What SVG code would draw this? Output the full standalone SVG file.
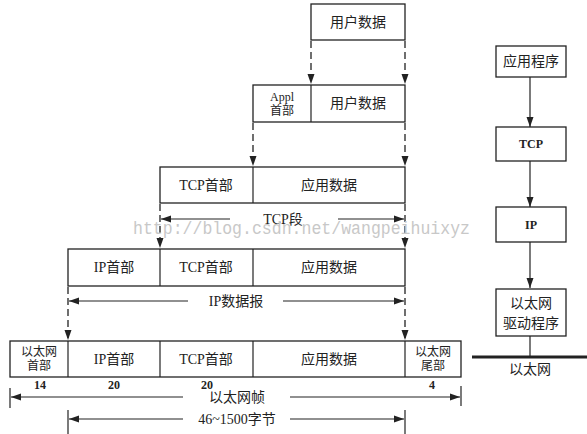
<svg xmlns="http://www.w3.org/2000/svg" width="587" height="434" viewBox="0 0 587 434">
<style>
.box{fill:#fff;stroke:#222;stroke-width:1.3}
.div{stroke:#222;stroke-width:1.2}
.t{font-family:"Liberation Serif","Noto Sans CJK SC",serif;font-size:14px;fill:#222;text-anchor:middle}
.s{font-family:"Liberation Serif","Noto Sans CJK SC",serif;font-size:12px;fill:#222;text-anchor:middle}
.b{font-family:"Liberation Serif","Noto Sans CJK SC",serif;font-size:12px;font-weight:bold;fill:#222;text-anchor:middle}
.dash{stroke:#222;stroke-width:1.3;stroke-dasharray:7 4;fill:none}
.ln{stroke:#222;stroke-width:1.2;fill:none}
.wm{font-family:"Liberation Mono",monospace;font-size:19px;fill:#c8c8c8}
</style>
<defs>
<marker id="ah" viewBox="0 0 10 10" refX="10" refY="5" markerWidth="8" markerHeight="8" markerUnits="userSpaceOnUse" orient="auto"><path d="M0,1.5 L10,5 L0,8.5 Z" fill="#222"/></marker>
<marker id="ahd" viewBox="0 0 10 10" refX="10" refY="5" markerWidth="10" markerHeight="10" markerUnits="userSpaceOnUse" orient="auto"><path d="M0,1.5 L10,5 L0,8.5 Z" fill="#222"/></marker>
</defs>

<g id="connectors">
<!-- dashed drops -->
<path class="dash" d="M311,41 V84" marker-end="url(#ahd)"/>
<path class="dash" d="M405,41 V84" marker-end="url(#ahd)"/>
<path class="dash" d="M253,123 V166" marker-end="url(#ahd)"/>
<path class="dash" d="M405,123 V166" marker-end="url(#ahd)"/>
<path class="dash" d="M160,204 V248" marker-end="url(#ahd)"/>
<path class="dash" d="M405,204 V248" marker-end="url(#ahd)"/>
<path class="dash" d="M68,287 V340" marker-end="url(#ahd)"/>
<path class="dash" d="M405,287 V340" marker-end="url(#ahd)"/>
<!-- TCP段 -->
<path class="ln" d="M230,219 H161" marker-end="url(#ahd)"/>
<path class="ln" d="M338,219 H404" marker-end="url(#ahd)"/>
<!-- IP数据报 -->
<path class="ln" d="M188,301 H69" marker-end="url(#ahd)"/>
<path class="ln" d="M283,301 H404" marker-end="url(#ahd)"/>
<!-- 以太网帧 -->
<path class="ln" d="M10,388 V408"/>
<path class="ln" d="M461,386 V406"/>
<path class="ln" d="M183,397 H11" marker-end="url(#ahd)"/>
<path class="ln" d="M290,397 H460" marker-end="url(#ahd)"/>
<!-- 46~1500字节 -->
<path class="ln" d="M68,410 V434"/>
<path class="ln" d="M405,410 V434"/>
<path class="ln" d="M183,419 H69" marker-end="url(#ahd)"/>
<path class="ln" d="M290,419 H404" marker-end="url(#ahd)"/>
<!-- right stack -->
<path class="ln" d="M530,77 V127" marker-end="url(#ahd)"/>
<path class="ln" d="M530,161 V207" marker-end="url(#ahd)"/>
<path class="ln" d="M530,242 V288" marker-end="url(#ahd)"/>
<path class="ln" d="M530,336 V357"/>
<path d="M472,357 H587" stroke="#222" stroke-width="3"/>
</g>

<g id="row1">
<rect class="box" x="311" y="4" width="94" height="36"/>
<text class="t" x="358" y="27">用户数据</text>
</g>

<g id="row2">
<rect class="box" x="253" y="85" width="152" height="37"/>
<line class="div" x1="311" y1="85" x2="311" y2="122"/>
<text class="s" x="282" y="101">Appl</text>
<text class="s" x="282" y="115">首部</text>
<text class="t" x="358" y="108">用户数据</text>
</g>

<g id="row3">
<rect class="box" x="160" y="167" width="245" height="36"/>
<line class="div" x1="253" y1="167" x2="253" y2="203"/>
<text class="t" x="206" y="190">TCP首部</text>
<text class="t" x="329" y="190">应用数据</text>
<text class="t" x="283" y="224">TCP段</text>
</g>

<g id="row4">
<rect class="box" x="68" y="249" width="337" height="37"/>
<line class="div" x1="160" y1="249" x2="160" y2="286"/>
<line class="div" x1="253" y1="249" x2="253" y2="286"/>
<text class="t" x="114" y="272">IP首部</text>
<text class="t" x="206" y="272">TCP首部</text>
<text class="t" x="329" y="272">应用数据</text>
<text class="t" x="236" y="306">IP数据报</text>
</g>

<g id="row5">
<rect class="box" x="10" y="341" width="451" height="36"/>
<line class="div" x1="68" y1="341" x2="68" y2="377"/>
<line class="div" x1="160" y1="341" x2="160" y2="377"/>
<line class="div" x1="253" y1="341" x2="253" y2="377"/>
<line class="div" x1="405" y1="341" x2="405" y2="377"/>
<text class="s" x="39" y="356">以太网</text>
<text class="s" x="39" y="370">首部</text>
<text class="t" x="114" y="364">IP首部</text>
<text class="t" x="206" y="364">TCP首部</text>
<text class="t" x="329" y="364">应用数据</text>
<text class="s" x="433" y="356">以太网</text>
<text class="s" x="433" y="370">尾部</text>
<text class="b" x="40" y="389">14</text>
<text class="b" x="114" y="389">20</text>
<text class="b" x="207" y="389">20</text>
<text class="b" x="432" y="389">4</text>
<text class="t" x="237" y="402">以太网帧</text>
<text class="t" x="237" y="424">46~1500字节</text>
</g>

<g id="app">
<rect class="box" x="496" y="46" width="70" height="31"/>
<text class="t" x="531" y="66">应用程序</text>
</g>
<g id="tcp">
<rect class="box" x="496" y="127" width="70" height="34"/>
<text class="b" x="531" y="148">TCP</text>
</g>
<g id="ip">
<rect class="box" x="496" y="207" width="70" height="35"/>
<text class="b" x="531" y="229">IP</text>
</g>
<g id="driver">
<rect class="box" x="496" y="289" width="70" height="47"/>
<text class="t" x="531" y="308">以太网</text>
<text class="t" x="531" y="328">驱动程序</text>
</g>
<g id="ethernet">
<text class="t" x="530" y="374">以太网</text>
</g>

<text class="wm" x="133" y="234" textLength="337" lengthAdjust="spacingAndGlyphs">http://blog.csdn.net/wangpeihuixyz</text>
</svg>
